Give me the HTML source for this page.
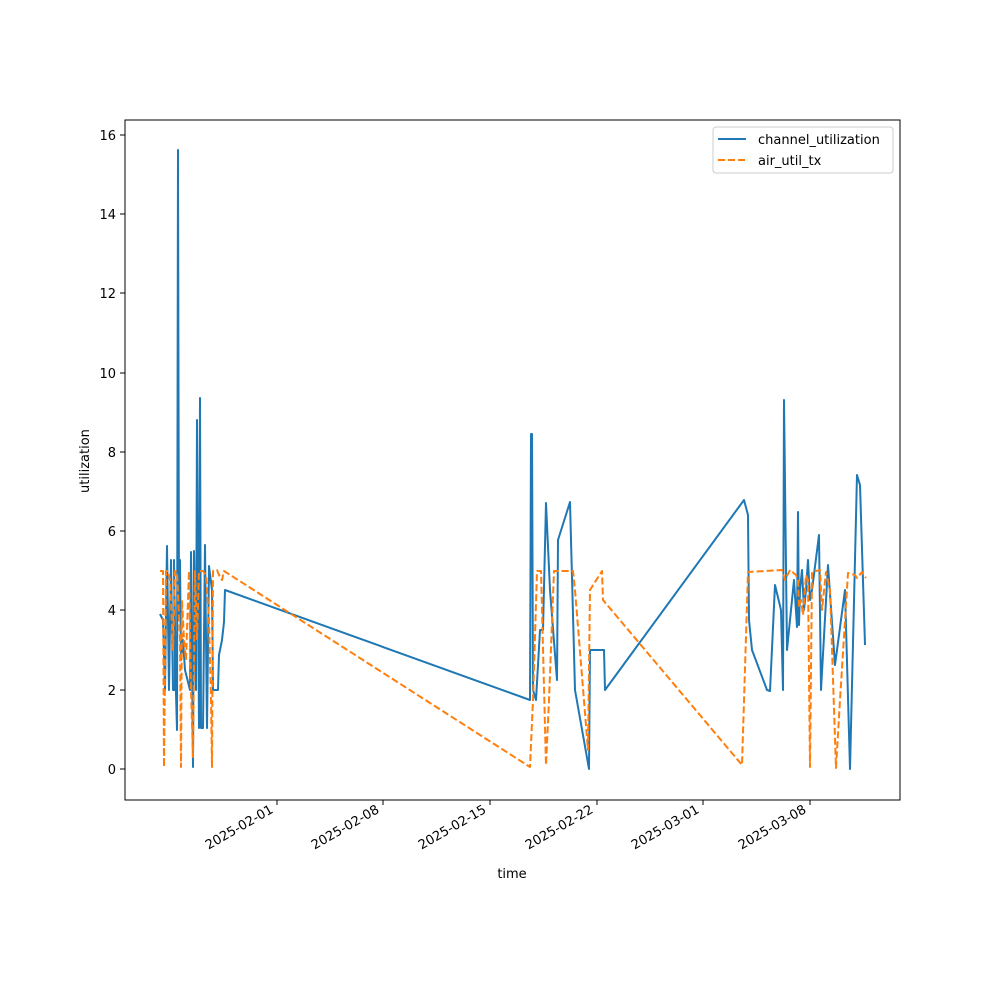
<!DOCTYPE html>
<html><head><meta charset="utf-8"><style>body{margin:0;background:#fff}svg{display:block}text{font-family:"DejaVu Sans","Liberation Sans",sans-serif;font-size:13px;fill:#000}</style></head><body>
<svg width="1000" height="1000" viewBox="0 0 1000 1000">
<rect width="1000" height="1000" fill="#fff"/>
<polyline fill="none" stroke="#1f77b4" stroke-width="2" stroke-linejoin="round" points="160,614 163,620 165,690 167,546 169,690 171,560 173,690 175,690 174,560 176,694 177,730 178,150 179,620 180,560 181,660 183,640 185,670 190,690 191,552 193,767 194,551 196,690 197,420 199,728 200,398 201,728 203,728 205,545 207,728 209,566 212,590 213,690 218,690 219,655 222,640 224,622 225,590 530,700 531,434 532,434 533,690 536,700 540,630 543,630 546,503 550,590 557,680 558,540 570,502 575,690 589,769 590,650 604,650 605,690 744,500 748,515 749,620 752,650 767,690 770,691 775,585 781,610 783,690 784,400 787,650 794,580 797,627 798,512 799,625 800,590 802,570 804,610 806,590 808,560 810,600 812,590 819,535 821,690 828,565 835,665 845,590 850,769 857,475 860,485 865,645"/>
<polyline fill="none" stroke="#ff7f0e" stroke-width="2" stroke-dasharray="7,3" stroke-linejoin="round" points="160,571 163,571 164,767 166,571 168,571 170,580 173,650 175,571 177,572 180,640 181,767 182,600 184,640 186,660 189,571 191,690 193,757 195,571 197,640 199,571 203,571 206,575 209,620 211,700 212,767 213,571 217,570 219,575 222,580 224,571 530,767 533,700 537,571 541,571 546,765 549,700 554,571 573,571 575,590 588,750 590,590 602,571 603,600 742,765 748,572 782,570 785,580 790,570 796,575 798,580 799,607 801,600 803,615 806,575 808,580 810,767 812,572 820,570 822,610 826,572 830,590 836,768 840,700 848,573 855,575 857,578 862,572 866,578"/>
<rect x="125" y="120" width="775" height="680" fill="none" stroke="#000" stroke-width="1"/>
<g stroke="#000">
<line x1="125" y1="769" x2="120" y2="769"/><line x1="125" y1="690" x2="120" y2="690"/><line x1="125" y1="610" x2="120" y2="610"/><line x1="125" y1="531" x2="120" y2="531"/><line x1="125" y1="452" x2="120" y2="452"/><line x1="125" y1="373" x2="120" y2="373"/><line x1="125" y1="293" x2="120" y2="293"/><line x1="125" y1="214" x2="120" y2="214"/><line x1="125" y1="135" x2="120" y2="135"/>
<line x1="277" y1="800" x2="277" y2="805"/><line x1="383" y1="800" x2="383" y2="805"/><line x1="490" y1="800" x2="490" y2="805"/><line x1="597" y1="800" x2="597" y2="805"/><line x1="703" y1="800" x2="703" y2="805"/><line x1="810" y1="800" x2="810" y2="805"/>
</g>
<g text-anchor="end">
<text x="116" y="774">0</text><text x="116" y="695">2</text><text x="116" y="615">4</text><text x="116" y="536">6</text><text x="116" y="457">8</text><text x="116" y="378">10</text><text x="116" y="298">12</text><text x="116" y="219">14</text><text x="116" y="140">16</text>
<text transform="translate(274,812) rotate(-30)">2025-02-01</text>
<text transform="translate(380,812) rotate(-30)">2025-02-08</text>
<text transform="translate(487,812) rotate(-30)">2025-02-15</text>
<text transform="translate(594,812) rotate(-30)">2025-02-22</text>
<text transform="translate(700,812) rotate(-30)">2025-03-01</text>
<text transform="translate(807,812) rotate(-30)">2025-03-08</text>
</g>
<text x="512" y="878" text-anchor="middle">time</text>
<text transform="translate(89,461) rotate(-90)" text-anchor="middle">utilization</text>
<rect x="713" y="127" width="180" height="46" rx="3" fill="#fff" stroke="#ccc"/>
<line x1="718" y1="139" x2="746" y2="139" stroke="#1f77b4" stroke-width="2"/>
<line x1="718" y1="160" x2="746" y2="160" stroke="#ff7f0e" stroke-width="2" stroke-dasharray="7,3"/>
<text x="758" y="144">channel_utilization</text>
<text x="758" y="165">air_util_tx</text>
</svg>
</body></html>
